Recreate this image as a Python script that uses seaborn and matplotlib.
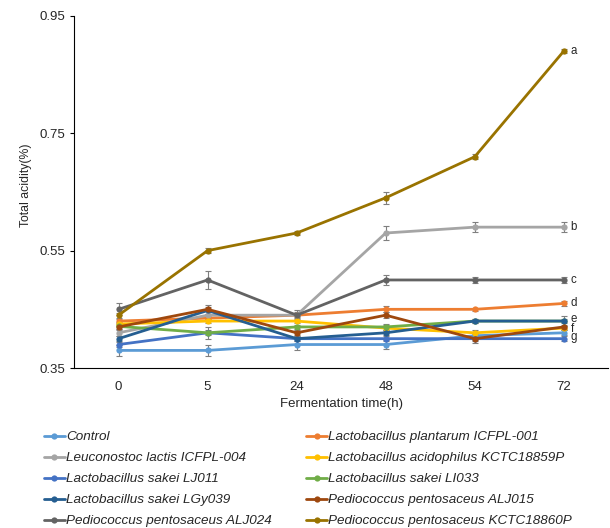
import seaborn as sns
import matplotlib.pyplot as plt
import pandas as pd

times = ['0', '5', '24', '48', '54', '72']
strains = ['Control',
           'Lactobacillus plantarum ICFPL-001',
           'Leuconostoc lactis ICFPL-004',
           'Lactobacillus acidophilus KCTC18859P',
           'Lactobacillus sakei LJ011',
           'Lactobacillus sakei LI033',
           'Lactobacillus sakei LGy039',
           'Pediococcus pentosaceus ALJ015',
           'Pediococcus pentosaceus ALJ024',
           'Pediococcus pentosaceus KCTC18860P']
colors = ['#5B9BD5', '#ED7D31', '#A5A5A5', '#FFC000', '#4472C4',
          '#70AD47', '#255E91', '#9E480E', '#636363', '#997300']

control = [0.38, 0.38, 0.39, 0.39, 0.405, 0.41]
plantarum = [0.43, 0.435, 0.44, 0.45, 0.45, 0.46]
leuconostoc = [0.41, 0.44, 0.44, 0.58, 0.59, 0.59]
acidophilus = [0.425, 0.43, 0.43, 0.418, 0.41, 0.418]
lj011 = [0.39, 0.41, 0.40, 0.40, 0.40, 0.40]
li033 = [0.421, 0.41, 0.42, 0.42, 0.43, 0.43]
lgy039 = [0.40, 0.448, 0.40, 0.41, 0.43, 0.43]
alj015 = [0.42, 0.45, 0.41, 0.44, 0.40, 0.42]
alj024 = [0.45, 0.50, 0.44, 0.50, 0.50, 0.50]
kctc18860 = [0.44, 0.55, 0.58, 0.64, 0.71, 0.89]

control_err = [0.01, 0.01, 0.01, 0.007, 0.004, 0.004]
plantarum_err = [0.003, 0.003, 0.003, 0.005, 0.003, 0.005]
leuconostoc_err = [0.005, 0.008, 0.005, 0.012, 0.008, 0.008]
acidophilus_err = [0.004, 0.004, 0.004, 0.005, 0.004, 0.004]
lj011_err = [0.004, 0.004, 0.004, 0.004, 0.004, 0.004]
li033_err = [0.004, 0.01, 0.004, 0.005, 0.004, 0.004]
lgy039_err = [0.004, 0.006, 0.004, 0.004, 0.004, 0.008]
alj015_err = [0.004, 0.008, 0.004, 0.005, 0.008, 0.004]
alj024_err = [0.01, 0.015, 0.008, 0.008, 0.005, 0.005]
kctc18860_err = [0.004, 0.004, 0.004, 0.01, 0.004, 0.003]

letters = ['a', 'b', 'c', 'd', 'e', 'f', 'g']
letter_y = [0.89, 0.59, 0.50, 0.46, 0.434, 0.417, 0.402]

values = [control, plantarum, leuconostoc, acidophilus, lj011,
          li033, lgy039, alj015, alj024, kctc18860]
errors = [control_err, plantarum_err, leuconostoc_err, acidophilus_err, lj011_err,
          li033_err, lgy039_err, alj015_err, alj024_err, kctc18860_err]

rows = []
for name, vals in zip(strains, values):
    for i, v in enumerate(vals):
        rows.append({'x': i, 'acid': v, 'strain': name})
df = pd.DataFrame(rows)

sns.set_style('white')
plt.rcParams['font.family'] = ['Liberation Sans', 'DejaVu Sans']

fig = plt.figure(figsize=(6.1, 5.28), dpi=100)
ax = fig.add_axes([0.1213, 0.303, 0.876, 0.667])

for name, vals, errs, c in zip(strains, values, errors, colors):
    ax.errorbar(range(len(times)), vals, yerr=errs, fmt='none', ecolor='#7f7f7f',
                elinewidth=0.8, capsize=2, capthick=0.8, zorder=1)

sns.lineplot(data=df, x='x', y='acid', hue='strain', palette=colors,
             hue_order=strains, marker='o', markersize=4.5, markeredgewidth=0,
             linewidth=2, ax=ax, legend=True, zorder=2)

for t, y in zip(letters, letter_y):
    ax.annotate(t, (5, y), xytext=(5, 0), textcoords='offset points',
                va='center', ha='left', fontsize=8.3)

ax.set_xlim(-0.5, 5.5)
ax.set_ylim(0.35, 0.95)
ax.set_yticks([0.35, 0.55, 0.75, 0.95])
ax.set_yticklabels(['0.35', '0.55', '0.75', '0.95'], fontsize=9.5)
ax.set_xticks(range(len(times)))
ax.set_xticklabels(times, fontsize=9.5)
ax.tick_params(axis='x', length=0, pad=9)
ax.set_xticks([0.5, 1.5, 2.5, 3.5, 4.5], minor=True)
ax.tick_params(axis='x', which='minor', direction='in', length=3, width=0.8, color='black')
ax.tick_params(axis='y', direction='out', length=3, width=0.8, color='black', left=True, pad=3)
for s in ['top', 'right']:
    ax.spines[s].set_visible(False)
for s in ['left', 'bottom']:
    ax.spines[s].set_color('black')
    ax.spines[s].set_linewidth(0.8)
ax.set_xlabel('Fermentation time(h)', fontsize=9.5, labelpad=4)
ax.set_ylabel('Total acidity(%)', fontsize=8.8)
ax.yaxis.set_label_coords(-0.078, 0.52)

handles, labels = ax.get_legend_handles_labels()
ax.get_legend().remove()
order = list(range(0, 10, 2)) + list(range(1, 10, 2))
leg = fig.legend([handles[i] for i in order], [labels[i] for i in order],
                 ncol=2, loc='upper left', bbox_to_anchor=(0.072, 0.184),
                 frameon=False, fontsize=9.7, handlelength=1.55, handletextpad=0.1,
                 columnspacing=2.55, labelspacing=0.64, borderpad=0, borderaxespad=0)
for txt in leg.get_texts():
    txt.set_fontstyle('italic')

fig.savefig('out.png', dpi=100)
